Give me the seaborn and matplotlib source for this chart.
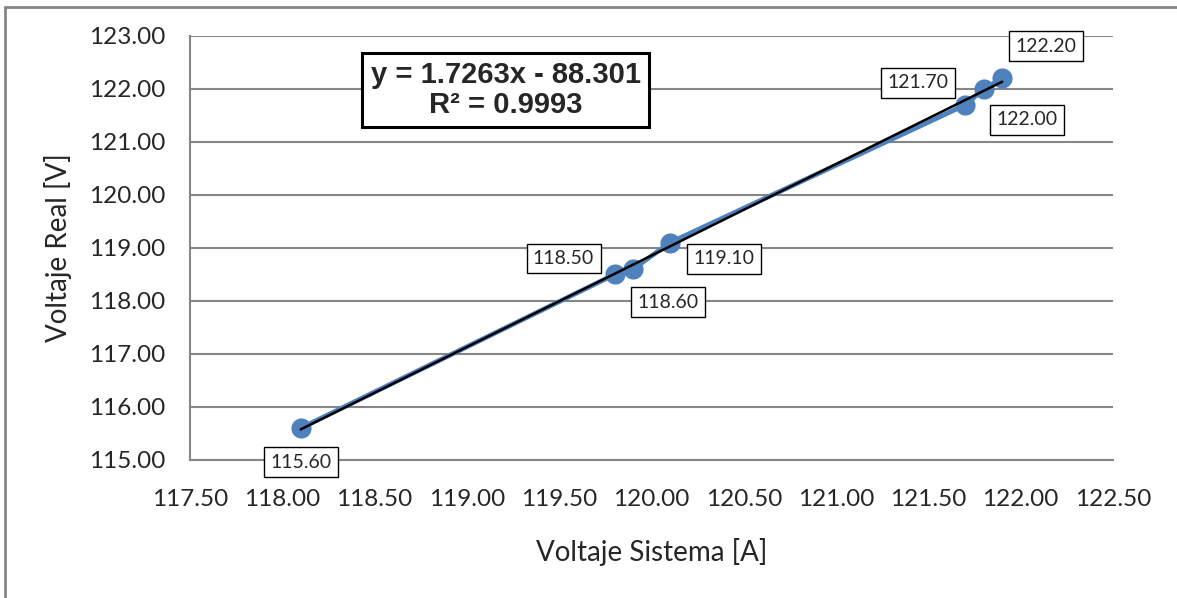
import matplotlib
matplotlib.use("Agg")
import matplotlib.pyplot as plt
import seaborn as sns
import pandas as pd
from matplotlib.lines import Line2D

voltaje_sistema = [118.1, 119.8, 119.9, 120.1, 121.7, 121.8, 121.9]
voltaje_real = [115.6, 118.5, 118.6, 119.1, 121.7, 122.0, 122.2]
etiquetas = ["115.60", "118.50", "118.60", "119.10", "121.70", "122.00", "122.20"]
ecuacion = "y = 1.7263x - 88.301\nR² = 0.9993"

x_ticks = [117.5 + 0.5 * i for i in range(11)]
y_ticks = [115 + i for i in range(9)]

df = pd.DataFrame({"sistema": voltaje_sistema, "real": voltaje_real})

sns.set_style("white")
plt.rcParams["font.family"] = ["Lato", "DejaVu Sans"]

fig = plt.figure(figsize=(11.77, 5.98), dpi=100)
ax = fig.add_axes([0.1614, 0.2308, 0.7842, 0.709])

BLUE = "#4F81BD"
GRID = "#868686"

sns.lineplot(data=df, x="sistema", y="real", sort=False, color=BLUE, lw=3.5,
             marker="o", markersize=14.5, markeredgewidth=0, ax=ax, zorder=3)
sns.regplot(data=df, x="sistema", y="real", scatter=False, ci=None, truncate=True,
            line_kws={"color": "black", "lw": 1.8, "zorder": 4}, ax=ax)

ax.set_xlim(117.5, 122.5)
ax.set_ylim(115, 123)
ax.set_xticks(x_ticks)
ax.set_yticks(y_ticks)
ax.set_xticklabels([f"{v:.2f}" for v in x_ticks], fontsize=17.5)
ax.set_yticklabels([f"{v:.2f}" for v in y_ticks], fontsize=17.5)
ax.tick_params(axis="both", length=0)
ax.tick_params(axis="x", pad=21)
ax.tick_params(axis="y", pad=18)

ax.yaxis.grid(True, color=GRID, lw=1.5)
ax.set_axisbelow(True)
for s in ["top", "right"]:
    ax.spines[s].set_visible(False)
for s in ["left", "bottom"]:
    ax.spines[s].set_color(GRID)
    ax.spines[s].set_linewidth(1.5)

ax.set_xlabel("Voltaje Sistema [A]", fontsize=20, labelpad=20)
ax.set_ylabel("Voltaje Real [V]", fontsize=20, labelpad=12)

# desplazamientos de las etiquetas (pixeles)
offsets = [(0, -34), (-51, 16), (35, -33), (54, -16), (-47, 22), (43, -31), (44, 32)]
for xv, yv, lab, off in zip(voltaje_sistema, voltaje_real, etiquetas, offsets):
    ax.annotate(lab, (xv, yv), xytext=off, textcoords="offset pixels",
                ha="center", va="center", fontsize=14, zorder=6,
                bbox=dict(boxstyle="square,pad=0.33", fc="white", ec="black", lw=1))

ax.text(119.21, 121.98, ecuacion, ha="center", va="center", fontsize=21,
        fontweight="bold", family=["Liberation Sans", "DejaVu Sans"], linespacing=1.1,
        zorder=7,
        bbox=dict(boxstyle="square,pad=0.28", fc="white", ec="black", lw=2.2))

# marco exterior
fig.add_artist(Line2D([0.004, 0.004], [0.0, 0.988], color=GRID, lw=2,
                      transform=fig.transFigure))
fig.add_artist(Line2D([0.004, 1.0], [0.988, 0.988], color=GRID, lw=2,
                      transform=fig.transFigure))

fig.savefig("out.png", dpi=100)
